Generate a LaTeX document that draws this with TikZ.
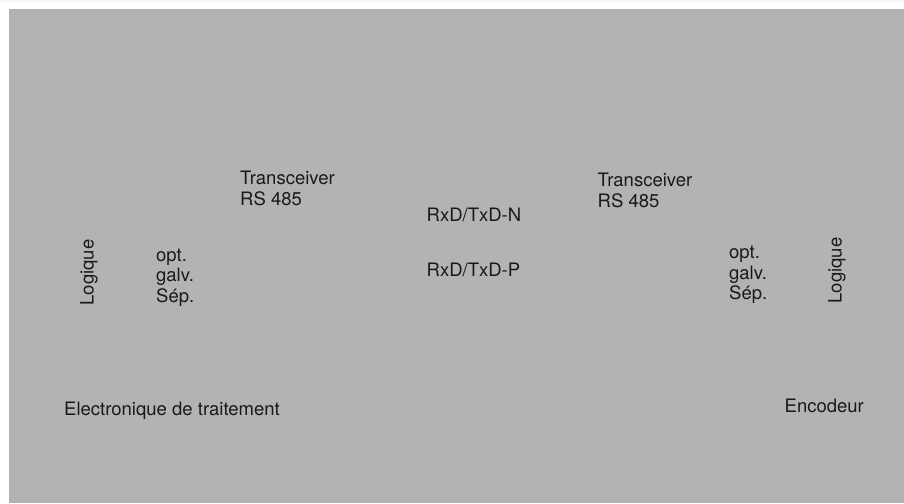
\documentclass[tikz,border=0pt]{standalone}
\usepackage{fontspec}
\setmainfont{TeX Gyre Heros}
\definecolor{bggray}{RGB}{179,179,179}
\definecolor{topgreen}{RGB}{240,253,236}
\begin{document}
\begin{tikzpicture}[x=1pt,y=-1pt,
  lbl/.style={anchor=base west,inner sep=0pt,font=\fontsize{18.5}{22}\selectfont,text=black!90},
  vlbl/.style={anchor=base,inner sep=0pt,rotate=90,font=\fontsize{18.5}{22}\selectfont,text=black!90}]
\useasboundingbox (0,0) rectangle (904,503);
\fill[white] (0,0) rectangle (904,503);
\fill[topgreen] (0,0) rectangle (904,2.5);
\fill[bggray] (9,9) rectangle (904,503);
% left side
\node[vlbl] (logL) at (93.5,272.5) {Logique};
\node[lbl] (optL) at (156,261) {opt.};
\node[lbl] (galvL) at (156,281.5) {galv.};
\node[lbl] (sepL) at (156,302) {Sép.};
\node[lbl] (trL1) at (240,184) {Transceiver};
\node[lbl] (trL2) at (240,205) {RS 485};
% middle
\node[lbl] (rxN) at (426.5,221) {RxD/TxD-N};
\node[lbl] (rxP) at (426.5,276.5) {RxD/TxD-P};
% right side
\node[lbl] (trR1) at (597.5,186) {Transceiver};
\node[lbl] (trR2) at (597.5,207) {RS 485};
\node[lbl] (optR) at (729,258.5) {opt.};
\node[lbl] (galvR) at (729,279) {galv.};
\node[lbl] (sepR) at (729,299) {Sép.};
\node[vlbl] (logR) at (841.5,270.5) {Logique};
% bottom labels
\node[lbl] (elec) at (64,415) {Electronique de traitement};
\node[lbl] (enc) at (784.5,412.5) {Encodeur};
\end{tikzpicture}
\end{document}
